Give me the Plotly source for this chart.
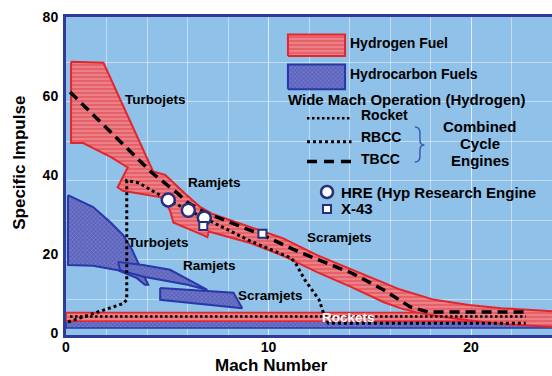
import plotly.graph_objects as go

FONT = "Liberation Sans, Arial, sans-serif"

# ---------------- data (Mach number vs specific impulse) ----------------
# Hydrogen-fuel envelope: upper edge left->right, then lower edge right->left
h2_env_mach = [0.25, 1.85, 4.3, 4.9, 5.9, 6.6, 7.2, 9.1, 10.7, 12.4, 14.1, 15.7, 16.5, 18.2, 19.9, 21.5, 24.3,
               24.3, 22.3, 20.6, 19.0, 17.4, 16.5, 15.7, 14.1, 12.4, 10.7, 9.1, 7.05, 6.98, 6.77, 5.3, 5.15,
               4.9, 4.65, 2.8, 2.55, 3.05, 2.2, 0.85, 0.25]
h2_env_isp = [68.7, 68.4, 40.9, 40.0, 35.2, 32.0, 30.2, 26.8, 24.0, 19.7, 16.0, 12.7, 11.0, 8.4, 7.1, 6.3, 5.4,
              1.5, 2.0, 2.8, 3.8, 5.1, 6.3, 7.8, 11.6, 15.4, 19.6, 22.8, 25.7, 24.3, 24.8, 28.0, 30.8,
              33.2, 34.4, 36.0, 36.9, 41.9, 44.6, 48.1, 48.1]

# Hydrocarbon-fuel regions
hc_turbo_mach = [0.1, 1.34, 2.18, 2.82, 3.27, 3.66, 4.06, 3.9, 3.5, 2.57, 1.34, 0.1]
hc_turbo_isp = [34.9, 31.9, 28.1, 24.8, 21.0, 16.5, 12.2, 12.2, 13.9, 15.9, 17.0, 17.2]
hc_ram_mach = [2.57, 3.8, 5.14, 6.3, 6.98, 6.0, 4.65, 3.9, 3.0, 2.67]
hc_ram_isp = [18.0, 17.2, 16.0, 12.9, 10.9, 12.2, 13.4, 14.2, 15.4, 16.0]
hc_scram_mach = [4.65, 8.27, 8.7, 4.65]
hc_scram_isp = [11.4, 10.2, 6.3, 8.4]

# Rocket bands
rkt_mach = [0, 24.3, 24.3, 0]
rkt_h2_isp = [3.0, 3.0, 5.2, 5.2]
rkt_hc_isp = [1.3, 1.3, 3.0, 3.0]

# Wide Mach operation paths (hydrogen)
rocket_mach = [0.2, 22.7]
rocket_isp = [4.2, 4.2]
rbcc_mach = [0.1, 2.85, 3.0, 3.0, 3.6, 5.05, 6.04, 6.83, 9.1, 11.1, 11.3, 11.8, 12.5, 12.7, 12.95, 22.7]
rbcc_isp = [2.8, 7.5, 8.5, 38.6, 38.0, 33.7, 31.1, 29.1, 23.3, 19.0, 18.0, 13.4, 8.4, 5.3, 2.5, 2.5]
tbcc_mach = [0.2, 4.26, 5.5, 6.04, 6.83, 8.0, 9.7, 11.6, 14.1, 15.7, 17.0, 17.9, 22.8]
tbcc_isp = [61.0, 40.5, 35.4, 32.9, 30.6, 28.2, 24.8, 20.3, 15.2, 10.9, 6.6, 5.3, 5.3]

# Test points
hre_mach = [5.05, 6.04, 6.83]
hre_isp = [33.7, 31.1, 29.1]
x43_mach = [6.78, 9.7]
x43_isp = [27.1, 25.1]

# Region labels
region_labels = ["Turbojets", "Ramjets", "Scramjets", "Turbojets", "Ramjets", "Scramjets"]
region_mach = [4.44, 7.31, 13.53, 4.59, 7.11, 10.12]
region_isp = [59.2, 38.2, 24.1, 22.8, 17.2, 9.6]

x_ticks = [0, 10, 20]
y_ticks = [0, 20, 40, 60, 80]

# ---------------- styles ----------------
H2_LINE = "#E3262E"
H2_PAT = dict(shape="-", bgcolor="#E6626A", fgcolor="#F4AFB0", size=4, solidity=0.4)
HC_LINE = "#2838A8"
HC_PAT = dict(shape="x", bgcolor="#5C63BC", fgcolor="#AEB6EA", size=3, solidity=0.3)
NAVY = "#26307A"
FRAME = "#2E3A97"
GRID = "rgba(255,255,255,0.45)"

fig = go.Figure()

def region(xs, ys, line, pat, width=2):
    fig.add_trace(go.Scatter(x=xs + xs[:1], y=ys + ys[:1], mode="lines", fill="toself",
                             line=dict(color=line, width=width), fillpattern=pat,
                             hoverinfo="skip", showlegend=False))

region(rkt_mach, rkt_hc_isp, HC_LINE, HC_PAT, 1.5)
region(rkt_mach, rkt_h2_isp, H2_LINE, H2_PAT, 1.5)
region(hc_turbo_mach, hc_turbo_isp, HC_LINE, HC_PAT)
region(hc_ram_mach, hc_ram_isp, HC_LINE, HC_PAT)
region(hc_scram_mach, hc_scram_isp, HC_LINE, HC_PAT)
region(h2_env_mach, h2_env_isp, H2_LINE, H2_PAT)

def path(xs, ys, dash, width):
    fig.add_trace(go.Scatter(x=xs, y=ys, mode="lines", line=dict(color="black", width=width, dash=dash),
                             hoverinfo="skip", showlegend=False))

path(rocket_mach, rocket_isp, "2.5px,2.5px", 2.5)
path(rbcc_mach, rbcc_isp, "3px,3px", 3)
path(tbcc_mach, tbcc_isp, "10px,6px", 3.5)

fig.add_trace(go.Scatter(x=hre_mach, y=hre_isp, mode="markers",
                         marker=dict(symbol="circle", size=13, color="white", line=dict(color=NAVY, width=2.5)),
                         hoverinfo="skip", showlegend=False))
fig.add_trace(go.Scatter(x=x43_mach, y=x43_isp, mode="markers",
                         marker=dict(symbol="square", size=8, color="white", line=dict(color=NAVY, width=2)),
                         hoverinfo="skip", showlegend=False))

# ---------------- custom legend (layout positions) ----------------
region([10.96, 13.78, 13.78, 10.96], [70.1, 70.1, 75.6, 75.6], H2_LINE, H2_PAT)
region([10.96, 13.78, 13.78, 10.96], [61.7, 61.7, 68.0, 68.0], HC_LINE, HC_PAT)
path([11.9, 14.1], [54.4, 54.4], "2.5px,2.5px", 2.5)
path([11.9, 14.1], [48.4, 48.4], "3px,3px", 3)
path([11.9, 14.1], [43.4, 43.4], "10px,7px", 3.5)
fig.add_trace(go.Scatter(x=[12.89], y=[35.7], mode="markers",
                         marker=dict(symbol="circle", size=12, color="white", line=dict(color=NAVY, width=2.5)),
                         hoverinfo="skip", showlegend=False))
fig.add_trace(go.Scatter(x=[12.89], y=[31.4], mode="markers",
                         marker=dict(symbol="square", size=8, color="white", line=dict(color=NAVY, width=2)),
                         hoverinfo="skip", showlegend=False))

ann = []
def txt(t, x, y, size, anchor="center", color="black", xref="x", yref="y", angle=0, yanchor="middle"):
    ann.append(dict(text=t, x=x, y=y, xref=xref, yref=yref, xanchor=anchor, yanchor=yanchor,
                    showarrow=False, textangle=angle, borderpad=0,
                    font=dict(family=FONT, size=size, color=color, weight="bold")))

for t, x, y in zip(region_labels, region_mach, region_isp):
    txt(t, x, y, 13.5)
txt("Rockets", 13.93, 4.05, 13.5, color="white")
txt("Hydrogen Fuel", 13.98, 73.4, 14, "left")
txt("Hydrocarbon Fuels", 13.98, 65.6, 14, "left")
txt("Wide Mach Operation (Hydrogen)", 16.79, 59.0, 15)
txt("Rocket", 14.52, 55.2, 14, "left")
txt("RBCC", 14.52, 49.6, 14, "left")
txt("TBCC", 14.52, 44.05, 14, "left")
txt("Combined", 20.44, 52.4, 15)
txt("Cycle", 20.44, 48.1, 15)
txt("Engines", 20.44, 43.8, 15)
txt("HRE (Hyp Research Engine", 13.53, 35.7, 15, "left")
txt("X-43", 13.53, 31.4, 15, "left")
txt("Mach Number", 0.422, -0.1285, 17, xref="paper", yref="paper", yanchor="bottom")
txt("Specific Impulse", -0.095, 0.541, 17, xref="paper", yref="paper", angle=-90)

brace = ("M 17.23,52.15 Q 17.48,52.15 17.48,50.63 L 17.48,48.86 Q 17.48,47.6 17.7,47.6 "
         "Q 17.48,47.6 17.48,46.33 L 17.48,44.81 Q 17.48,43.29 17.23,43.29")

fig.update_layout(
    width=552, height=376,
    margin=dict(l=66, r=0, t=17, b=41),
    paper_bgcolor="white", plot_bgcolor="#8FC1E9",
    annotations=ann,
    shapes=[dict(type="path", path=brace, xref="x", yref="y", line=dict(color="#3A5BB8", width=1.5))],
    xaxis=dict(range=[0, 24], tickvals=x_ticks, showgrid=True, gridcolor=GRID, gridwidth=1,
               minor=dict(dtick=2, tick0=0, showgrid=True, gridcolor=GRID, gridwidth=1),
               zeroline=False, showline=True, linecolor=FRAME, linewidth=3, mirror=True,
               ticks="", ticklabelstandoff=-3,
               tickfont=dict(family=FONT, size=14, color="black", weight="bold")),
    yaxis=dict(range=[-0.5, 80], tickvals=y_ticks, showgrid=False,
               minor=dict(tickvals=[8.5, 18.5, 28.5, 38.5, 48.5, 58.5, 68.5], showgrid=True,
                          gridcolor=GRID, gridwidth=1),
               zeroline=False, showline=True, linecolor=FRAME, linewidth=3, mirror=False,
               ticks="", ticklabelstandoff=2,
               tickfont=dict(family=FONT, size=14, color="black", weight="bold")),
)

fig.write_html("out.html", config={"displayModeBar": False},
               post_script="document.body.style.margin='0';document.body.style.overflow='hidden';")
